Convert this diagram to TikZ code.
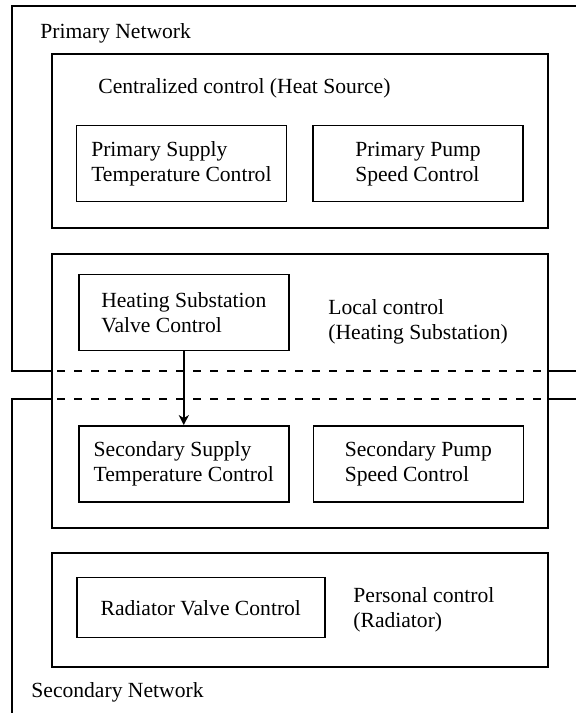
\documentclass[tikz,border=0pt]{standalone}
\usepackage{fontspec}
\setmainfont{Liberation Serif}
\usetikzlibrary{arrows.meta}
\tikzset{every picture/.style={/utils/exec={\fontsize{10.8}{12.5}\selectfont}}}
\tikzset{ctrl/.style={draw,line width=0.7pt,align=left,minimum width=105pt,minimum height=38pt}}
\tikzset{tag/.style={inner sep=0pt,align=left}}
\tikzset{group/.style={draw,line width=0.7pt}}
\tikzset{net/.style={line width=0.7pt}}
\tikzset{boundary/.style={line width=0.7pt,dash pattern=on 4pt off 4.5pt}}
\tikzset{signal/.style={-{Stealth[length=5pt,width=5pt,inset=1.5pt]},line width=0.7pt}}

\begin{document}
\begin{tikzpicture}[x=0.5pt,y=-0.5pt]
    \useasboundingbox (0,0) rectangle (576,713);
    \clip (0,0) rectangle (576,713);
    \draw [net] (52,371) -| (12,6) -- (590,6);
    \draw [net] (548,371) -- (590,371);
    \draw [net] (52,399) -| (12,720);
    \draw [net] (548,399) -- (590,399);
    \draw [group] (52,54) rectangle (548,228);
    \draw [group] (52,254) rectangle (548,528);
    \draw [group] (52,553) rectangle (548,667);
    \draw [boundary] (57,371) -- (545,371);
    \draw [boundary] (57,399) -- (545,399);
    \node [tag,anchor=base west] (prinet) at (40,38) {Primary Network};
    \node [tag,anchor=base west] (central) at (98,93) {Centralized control (Heat Source)};
    \node [ctrl] (psupply) at (181.4,163.7) {Primary Supply\\Temperature Control};
    \node [ctrl] (ppump) at (418,163.7) {Primary Pump\\Speed Control};
    \node [ctrl] (hsvalve) at (183.8,312.2) {Heating Substation\\Valve Control};
    \node [tag,anchor=west] (local) at (328,322) {Local control\\(Heating Substation)};
    \node [tag,anchor=west] (personal) at (353,610) {Personal control\\(Radiator)};
    \node [ctrl] (ssupply) at (183.8,463.8) {Secondary Supply\\Temperature Control};
    \node [ctrl] (spump) at (418.3,463.8) {Secondary Pump\\Speed Control};
    \node [ctrl,minimum width=124pt,minimum height=30pt] (radvalve) at (200.8,607.7) {Radiator Valve Control};
    \node [tag,anchor=base west] (secnet) at (31,697) {Secondary Network};
    \draw [signal] (hsvalve) -- (ssupply);
\end{tikzpicture}
\end{document}
